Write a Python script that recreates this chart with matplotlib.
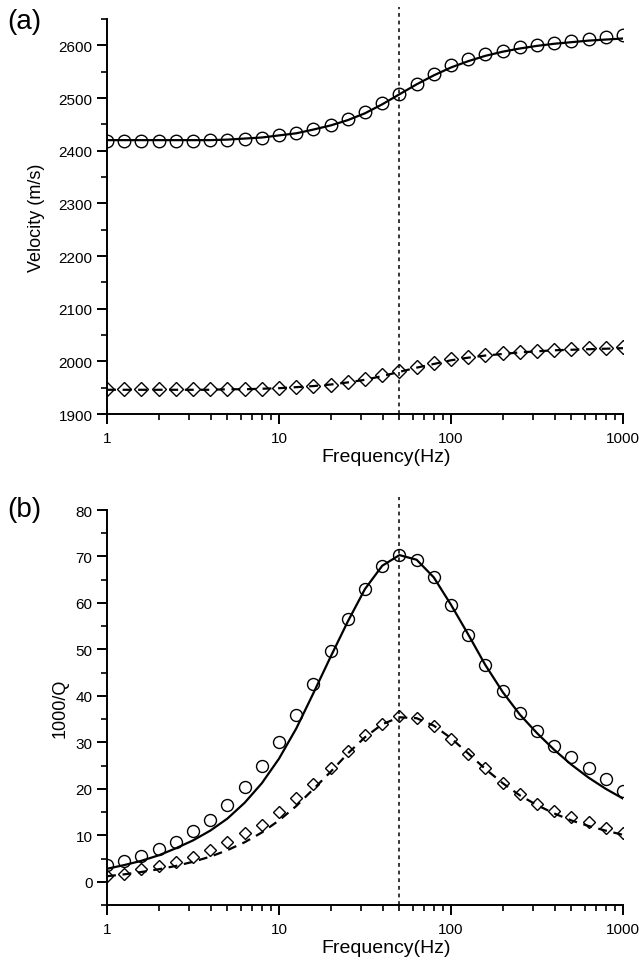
import numpy as np
import matplotlib
matplotlib.use("Agg")
from matplotlib import pyplot as plt
from matplotlib.ticker import FixedLocator, MultipleLocator, NullFormatter, FixedFormatter

plt.rcParams['font.family'] = ['Liberation Sans', 'DejaVu Sans']

# frequencies of the samples (Hz)
freq = [1, 1.26, 1.58, 2, 2.51, 3.16, 3.98, 5.01, 6.31, 7.94,
        10, 12.6, 15.8, 20, 25.1, 31.6, 39.8, 50.1, 63.1, 79.4,
        100, 126, 158, 200, 251, 316, 398, 501, 631, 794, 1000]

# (a) velocity, m/s
vp_pts = [2419, 2418, 2418, 2418, 2418, 2419, 2420, 2421, 2422, 2425,
          2429, 2434, 2442, 2448, 2461, 2473, 2490, 2508, 2527, 2545,
          2562, 2574, 2583, 2589, 2596, 2600, 2604, 2608, 2612, 2616, 2620]
vp_fit = [2420, 2420, 2420, 2420, 2420, 2420, 2420, 2421, 2423, 2425,
          2429, 2433, 2440, 2448, 2458, 2471, 2488, 2507, 2526, 2543,
          2558, 2570, 2580, 2588, 2594, 2599, 2603, 2606, 2609, 2611, 2613]
vs_pts = [1947, 1947, 1947, 1947, 1947, 1947, 1947, 1947, 1947, 1948,
          1949, 1951, 1953, 1956, 1960, 1966, 1974, 1981, 1990, 1996,
          2004, 2009, 2012, 2016, 2017, 2020, 2022, 2023, 2025, 2026, 2028]
vs_fit = [1946, 1946, 1946, 1946, 1946, 1946, 1946, 1947, 1947, 1948,
          1949, 1951, 1953, 1956, 1960, 1965, 1972, 1980, 1988, 1995,
          2002, 2007, 2011, 2014, 2017, 2019, 2021, 2022, 2023, 2024, 2025]

# (b) attenuation, 1000/Q
qp_pts = [3.6, 4.5, 5.5, 7.0, 8.6, 10.9, 13.4, 16.6, 20.4, 25.0,
          30.0, 35.9, 42.6, 49.6, 56.5, 63.1, 68.0, 70.4, 69.3, 65.5,
          59.6, 53.2, 46.7, 41.0, 36.3, 32.4, 29.3, 26.8, 24.4, 22.1, 19.6]
qp_fit = [2.8, 3.6, 4.5, 5.7, 7.2, 8.9, 11.0, 13.6, 17.0, 21.2,
          26.5, 33.0, 40.5, 48.5, 56.0, 63.0, 68.0, 70.3, 69.3, 65.5,
          59.6, 53.2, 46.7, 40.8, 36.0, 32.0, 28.4, 25.2, 22.4, 20.0, 17.9]
qs_pts = [1.3, 1.7, 2.7, 3.4, 4.3, 5.4, 6.9, 8.5, 10.4, 12.3,
          15.1, 18.0, 21.1, 24.4, 28.2, 31.6, 34.0, 35.6, 35.3, 33.6,
          30.8, 27.5, 24.4, 21.3, 18.9, 16.7, 15.3, 14.0, 12.8, 11.5, 10.6]
qs_fit = [1.2, 1.6, 2.1, 2.7, 3.4, 4.3, 5.4, 6.8, 8.5, 10.6,
          13.2, 16.3, 19.9, 23.7, 27.6, 31.1, 33.9, 35.4, 35.2, 33.6,
          30.9, 27.6, 24.3, 21.2, 18.6, 16.5, 14.7, 13.2, 12.0, 11.0, 10.1]

f_peak = 50

fig = plt.figure(figsize=(6.39, 9.62), dpi=100)
ax1 = fig.add_axes([0.1675, 0.5686, 0.8075, 0.4106])
ax2 = fig.add_axes([0.1675, 0.0582, 0.8075, 0.4106])

mk = dict(mfc='none', mec='black', mew=1.0, linestyle='none')

ax1.plot(freq, vp_fit, color='black', lw=1.6)
ax1.plot(freq, vs_fit, color='black', lw=1.6, linestyle=(0, (4, 3)))
ax1.plot(freq, vp_pts, marker='o', ms=9.0, **mk)
ax1.plot(freq, vs_pts, marker='D', ms=7.0, **mk)
ax1.axvline(f_peak, ymin=0, ymax=1.03, color='black', lw=1.1,
            linestyle=(0, (2.5, 2.5)), clip_on=False)

ax2.plot(freq, qp_fit, color='black', lw=1.6)
ax2.plot(freq, qs_fit, color='black', lw=1.6, linestyle=(0, (4, 3)))
ax2.plot(freq, qp_pts, marker='o', ms=8.6, **mk)
ax2.plot(freq, qs_pts, marker='D', ms=6.4, **mk)
ax2.axvline(f_peak, ymin=0, ymax=1.033, color='black', lw=1.1,
            linestyle=(0, (2.5, 2.5)), clip_on=False)

ax1.set_ylim(1900, 2650)
ax1.yaxis.set_major_locator(FixedLocator(np.arange(1900, 2601, 100)))
ax1.yaxis.set_minor_locator(MultipleLocator(50))
ax1.set_ylabel('Velocity (m/s)', fontsize=13, labelpad=10)

ax2.set_ylim(-5, 80)
ax2.yaxis.set_major_locator(FixedLocator(np.arange(0, 81, 10)))
ax2.yaxis.set_minor_locator(MultipleLocator(5))
ax2.set_ylabel('1000/Q', fontsize=13, labelpad=5)

for ax in (ax1, ax2):
    ax.set_xscale('log')
    ax.set_xlim(1, 1000)
    ax.xaxis.set_major_locator(FixedLocator([1, 10, 100, 1000]))
    ax.xaxis.set_major_formatter(FixedFormatter(['1', '10', '100', '1000']))
    ax.xaxis.set_minor_formatter(NullFormatter())
    ax.set_xlabel('Frequency(Hz)', fontsize=14, labelpad=10)
    ax.xaxis.set_label_coords(0.54, -0.085)
    for s in ('top', 'right'):
        ax.spines[s].set_visible(False)
    for s in ('left', 'bottom'):
        ax.spines[s].set_linewidth(1.4)
    ax.tick_params(which='major', direction='out', length=7, width=1.4, labelsize=11)
    ax.tick_params(axis='x', which='major', pad=5)
    ax.tick_params(which='minor', direction='out', length=4, width=1.2)

fig.text(0.012, 0.991, '(a)', fontsize=20, va='top', ha='left')
fig.text(0.012, 0.483, '(b)', fontsize=20, va='top', ha='left')

fig.savefig('out.png', dpi=100)
